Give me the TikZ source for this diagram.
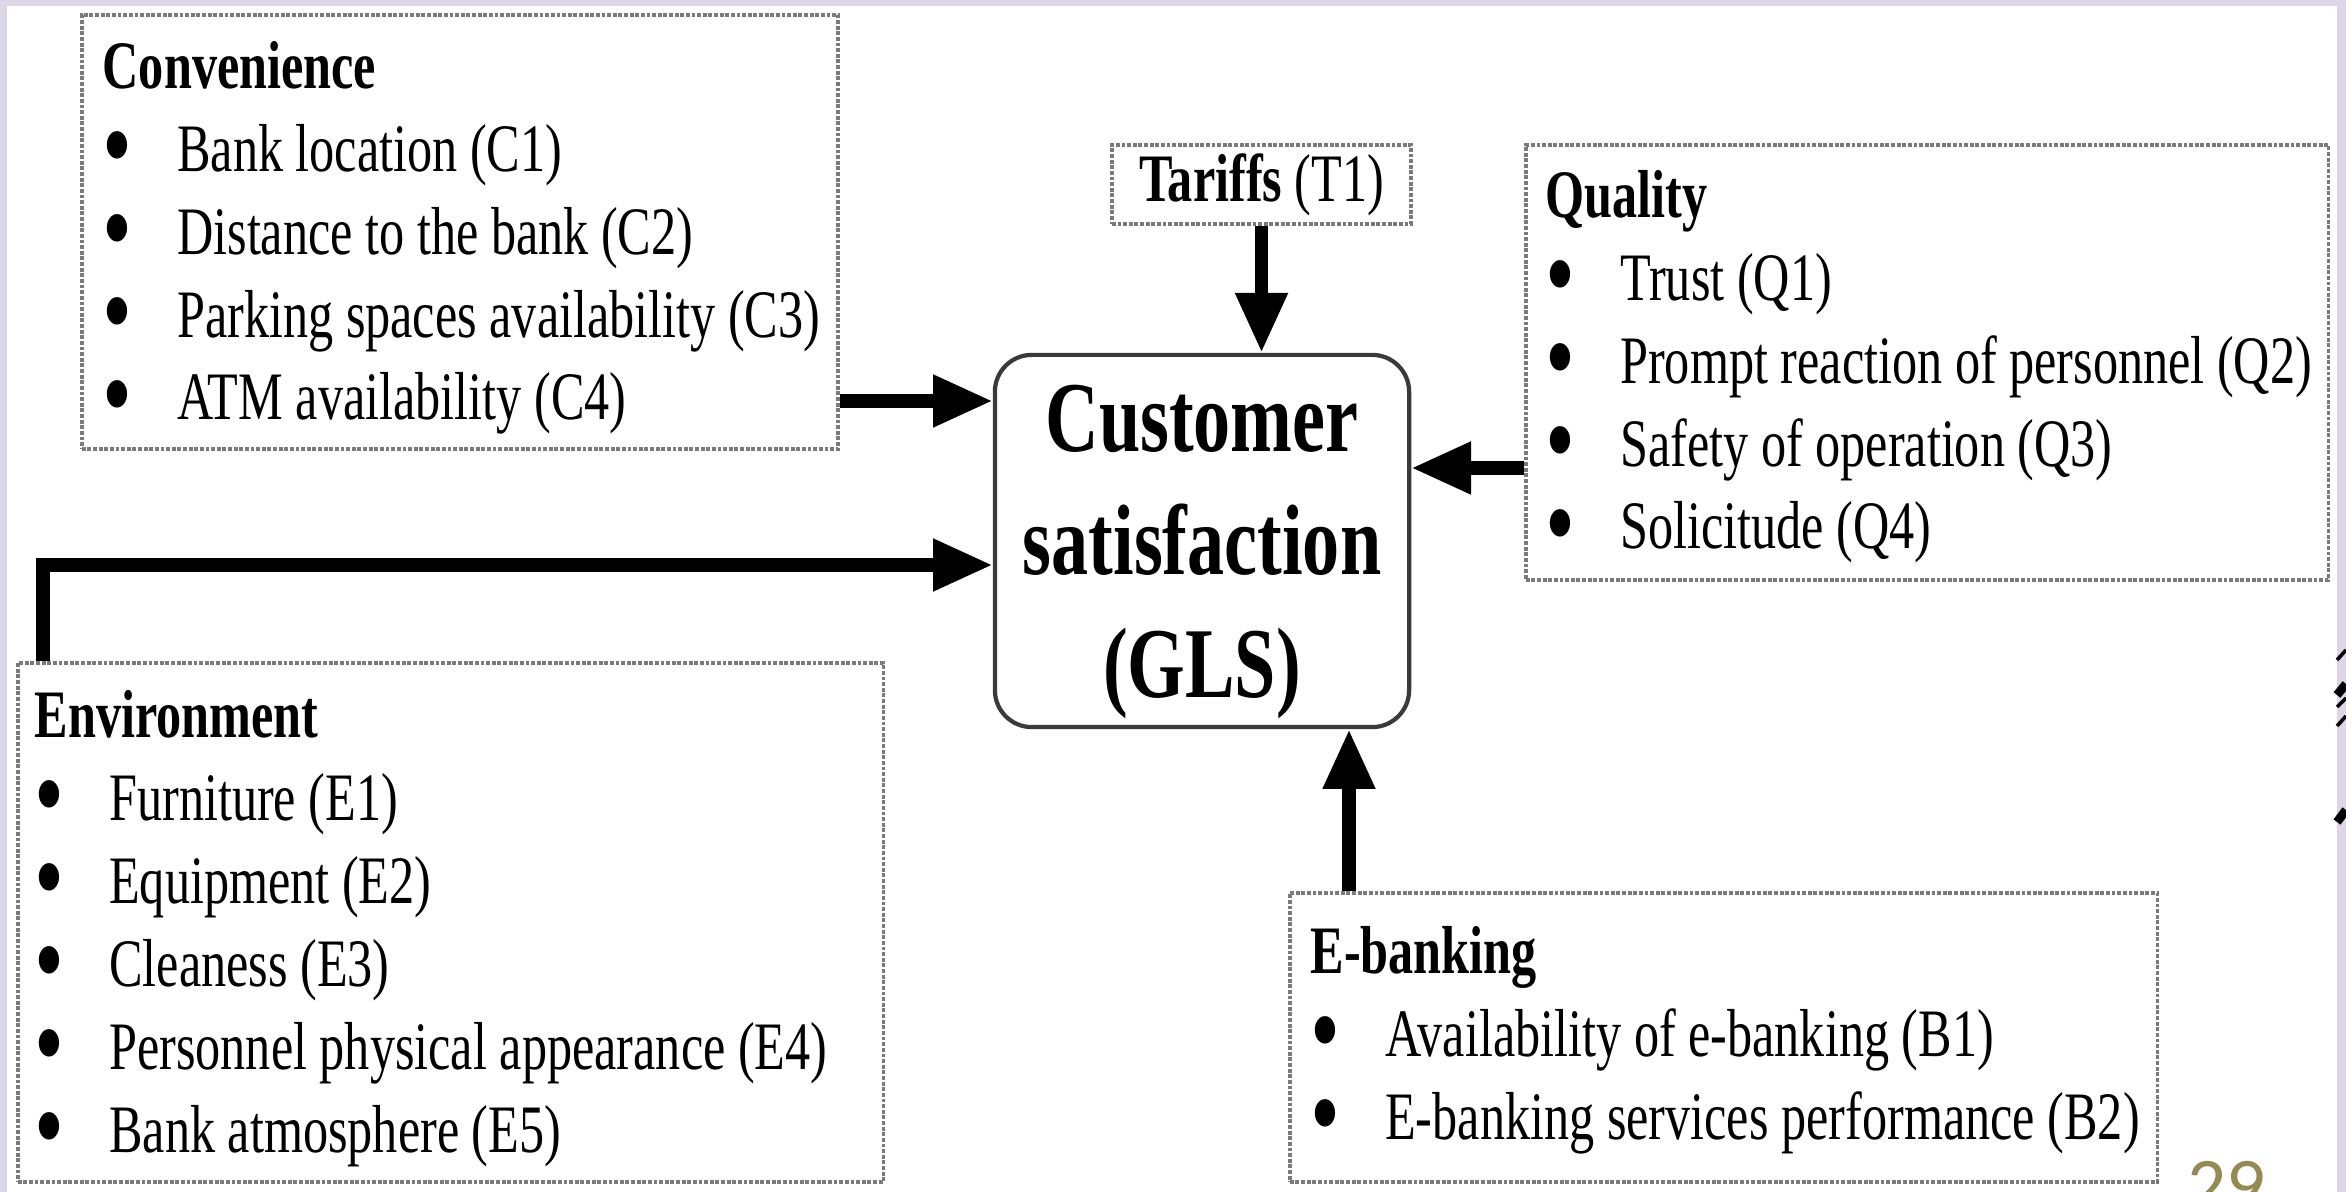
\documentclass[tikz,border=0pt]{standalone}
\usepackage{fontspec}
\setmainfont{Liberation Serif}[FakeStretch=0.74]
\newfontfamily\slidefont{Carlito}
\usepackage{xcolor}
\usetikzlibrary{arrows.meta,positioning,calc}
\definecolor{ink}{HTML}{000000}
\definecolor{rule}{HTML}{7A7A7A}
\definecolor{edge}{HTML}{3A3A3A}
\definecolor{lilac}{HTML}{DDD6E8}
\definecolor{olive}{HTML}{948A54}
\newcommand{\bodyfont}{\fontsize{19.3pt}{23.6pt}\selectfont}
\newcommand{\itm}[1]{\makebox[21.2pt][l]{\raisebox{-3.6pt}[0pt][0pt]{\scalebox{1.7}{\textbullet}}}#1}
\tikzset{
  >={Triangle[length=17pt,width=14pt]},
  frame/.style={draw=rule, line width=1pt, dash pattern=on 1.1pt off 0.5pt, inner sep=0pt},
  core/.style={draw=edge, rounded corners=10.5pt, line width=1.2pt, fill=white},
  flow/.style={->, line width=3.8pt, color=ink},
  list/.style={align=left, inner sep=0pt, anchor=base west, font=\bodyfont}
}
\begin{document}
\begin{tikzpicture}[x=0.01cm,y=-0.01cm]
  \clip (0,0) rectangle (2346,1192);
  \fill[lilac] (0,0) rectangle (2346,1192);
  \fill[white] (7,6) rectangle (2337,1192);

  \node[frame,minimum width=7.56cm,minimum height=4.34cm] (conv) at (460,232) {};
  \node[list] (convtxt) at (102,420) {\textbf{Convenience}\\
    \itm{Bank location (C1)}\\
    \itm{Distance to the bank (C2)}\\
    \itm{Parking spaces availability (C3)}\\
    \itm{ATM availability (C4)}};

  \node[frame,minimum width=2.99cm,minimum height=0.79cm,font=\bodyfont] (tariff) at (1261.5,184.5)
    {\textbf{Tariffs} (T1)};

  \node[frame,minimum width=8.02cm,minimum height=4.35cm] (qual) at (1927,362.5) {};
  \node[list] (qualtxt) at (1545,549) {\textbf{Quality}\\
    \itm{Trust (Q1)}\\
    \itm{Prompt reaction of personnel (Q2)}\\
    \itm{Safety of operation (Q3)}\\
    \itm{Solicitude (Q4)}};

  \node[frame,minimum width=8.65cm,minimum height=5.19cm] (env) at (450.5,922.5) {};
  \node[list] (envtxt) at (34,1152) {\textbf{Environment}\\
    \itm{Furniture (E1)}\\
    \itm{Equipment (E2)}\\
    \itm{Cleaness (E3)}\\
    \itm{Personnel physical appearance (E4)}\\
    \itm{Bank atmosphere (E5)}};

  \node[frame,minimum width=8.67cm,minimum height=2.89cm] (eb) at (1723.5,1037.5) {};
  \node[list] (ebtxt) at (1310,1139) {\textbf{E-banking}\\
    \itm{Availability of e-banking (B1)}\\
    \itm{E-banking services performance (B2)}};

  \node[core,minimum width=4.14cm,minimum height=3.72cm,align=center,text depth=0pt,
    font=\fontsize{28.5pt}{35pt}\selectfont\bfseries] (gls) at (1202,541)
    {Customer\\satisfaction\\(GLS)};

  \coordinate (envout) at ($(env.north west)+(27,0)$);
  \coordinate (ebout) at ($(eb.north west)+(61,0)$);
  \draw[flow] ($(conv.east)+(0,169)$) -- ($(gls.west)+(0,-140)$);
  \draw[flow] (tariff.south) -- (tariff.south |- gls.north);
  \draw[flow] ($(qual.west)+(0,105.5)$) -- ($(gls.east)+(0,-73)$);
  \draw[flow] (envout) |- ($(gls.west)+(0,24)$);
  \draw[flow] (ebout) -- (ebout |- gls.south);

  \draw[line width=1pt] (2337,660) -- (2346,650);
  \draw[line width=2.5pt] (2337,695) -- (2346,684);
  \draw[line width=1pt] (2337,707) -- (2346,698);
  \draw[line width=1pt] (2337,726) -- (2346,716);
  \draw[line width=2.5pt] (2337,822) -- (2346,810);
  \node[anchor=base west,inner sep=0pt,text=olive,font=\slidefont\fontsize{22pt}{26pt}\selectfont]
    (pagenum) at (2187,1211) {29};
\end{tikzpicture}
\end{document}
